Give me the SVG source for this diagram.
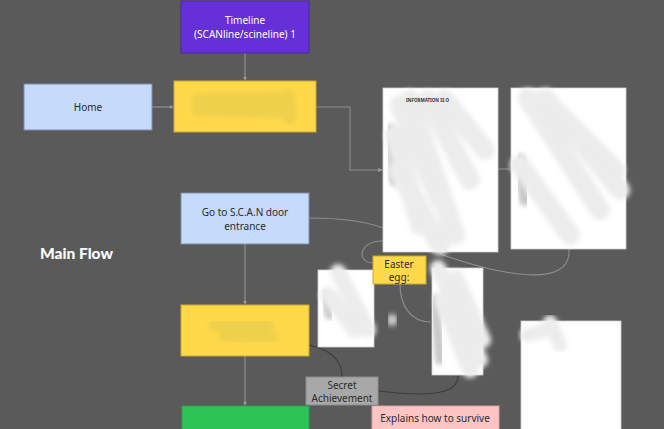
<svg xmlns="http://www.w3.org/2000/svg" width="664" height="429" viewBox="0 0 664 429">
<defs>
<style>
.t{font-family:"Noto Sans","Open Sans",sans-serif;font-size:10px;text-anchor:middle;fill:#2b2b2b}
.w{fill:#ffffff}
.ln{fill:none;stroke:#8e8e8e;stroke-width:1.1}
.dk{fill:none;stroke:#3c3c3c;stroke-width:1.1}
.lt{fill:none;stroke:#9a9a9a;stroke-width:1}
.page{fill:#ffffff;stroke:#d0d0d0;stroke-width:0.8}
.blue{fill:#c6dafc;stroke:#7f8ea6;stroke-width:1}
.yel{fill:#ffd94a;stroke:#c9a92e;stroke-width:1}
.smudge{fill:none;stroke-linecap:round;stroke:#ececec;filter:url(#soft)}
.sh{fill:none;stroke-linecap:round;stroke:#c8c8c8;filter:url(#soft)}
.ysm{fill:none;stroke-linecap:round;stroke:#eed04c;filter:url(#soft)}
</style>
<filter id="soft" x="-30%" y="-30%" width="160%" height="160%">
<feGaussianBlur stdDeviation="2.5"/>
</filter>
<marker id="ar" viewBox="0 0 6 6" refX="5" refY="3" markerWidth="4" markerHeight="4" orient="auto">
<path d="M0,0 L6,3 L0,6 z" fill="#9a9a9a"/>
</marker>
</defs>
<rect width="664" height="429" fill="#5a5a5a"/>

<g id="connectors">
<path class="lt" d="M245,53 V80" marker-end="url(#ar)"/>
<path class="lt" d="M152,107 H173" marker-end="url(#ar)"/>
<path class="ln" d="M316,107 H350 V170 H382" marker-end="url(#ar)"/>
<path class="ln" d="M498,169 H510"/>
<path class="lt" d="M245,244 V304" marker-end="url(#ar)"/>
<path class="lt" d="M245,356 V405" marker-end="url(#ar)"/>
<path class="ln" d="M309,218 C340,218 365,221 383,228"/>
<path class="ln" d="M383,241 C360,240 355,262 373,263"/>
<path class="ln" d="M400,284 C400,305 410,322 431,322"/>
<path class="ln" d="M569,249 C572,290 500,275 440,254"/>
<path class="dk" d="M275,338 C320,345 342,352 342,377"/>
<path class="dk" d="M378,391 C420,396 458,397 458,376"/>
</g>

<g id="timeline">
<rect x="181" y="1" width="128" height="52" fill="#6630d9" stroke="#4c2aa0" stroke-width="1"/>
<text class="t w" x="245" y="24">Timeline</text>
<text class="t w" x="245" y="38">(SCANline/scineline) 1</text>
</g>

<g id="yellow1">
<rect class="yel" x="174" y="81" width="142" height="51"/>
<path class="ysm" d="M198,100 L288,98 M198,110 L290,112 M288,95 L290,118" stroke-width="13"/>
</g>

<g id="home">
<rect class="blue" x="24" y="84" width="128" height="46"/>
<text class="t" x="88" y="111">Home</text>
</g>

<g id="page1">
<rect class="page" x="383" y="88" width="115" height="164"/>
<path class="sh" d="M390,130 L395,180 M392,320 L392,320" stroke-width="12"/>
<path class="smudge" d="M400,105 L440,200 M410,100 L455,235 M428,100 L470,180 M445,100 L485,150 M395,135 L420,225 M398,170 L440,245" stroke-width="20"/>
<text x="406" y="102" font-family="'Noto Sans',sans-serif" font-size="4.5" font-weight="bold" fill="#333">INFORMATION IS O</text>
</g>

<g id="page2">
<rect class="page" x="511" y="88" width="115" height="161"/>
<path class="sh" d="M520,160 L525,200" stroke-width="12"/>
<path class="smudge" d="M528,98 L600,210 M545,98 L620,190 M520,165 L570,235 M560,115 L615,170" stroke-width="20"/>
</g>

<g id="goto">
<rect class="blue" x="181" y="193" width="128" height="51"/>
<text class="t" x="245" y="216">Go to S.C.A.N door</text>
<text class="t" x="245" y="230">entrance</text>
</g>

<g id="page-small">
<rect class="page" x="318" y="270" width="56" height="77"/>
<path class="sh" d="M325,295 L330,315" stroke-width="10"/>
<path class="smudge" d="M338,272 L368,330 M328,295 L355,330" stroke-width="16"/>
</g>

<g id="easter">
<rect class="yel" x="373" y="256" width="53" height="28"/>
<text class="t" x="399" y="268">Easter</text>
<text class="t" x="399" y="281">egg:</text>
</g>

<g id="page3">
<rect class="page" x="432" y="268" width="51" height="107"/>
<path class="sh" d="M435,300 L440,360" stroke-width="10"/>
<path class="smudge" d="M438,268 L480,360 M442,300 L470,370 M456,278 L483,340" stroke-width="16"/>
</g>

<g id="page4">
<rect class="page" x="521" y="321" width="100" height="110"/>
<path class="smudge" d="M527,335 L548,330 M550,322 L560,345" stroke-width="14"/>
</g>

<g id="yellow2">
<rect class="yel" x="181" y="305" width="128" height="51"/>
<path class="ysm" d="M215,325 L268,325 M225,336 L272,338" stroke-width="13"/>
</g>

<g id="secret">
<rect x="306" y="377" width="72" height="28" fill="#a8a8a8" stroke="#8c8c8c" stroke-width="1"/>
<text class="t" x="342" y="389">Secret</text>
<text class="t" x="342" y="402">Achievement</text>
</g>

<g id="green">
<rect x="182" y="406" width="127" height="30" fill="#2ec455" stroke="#24a046" stroke-width="1"/>
</g>

<g id="pink">
<rect x="372" y="406" width="127" height="30" fill="#ffc4c4" stroke="#d9a0a0" stroke-width="1"/>
<text class="t" x="435" y="422">Explains how to survive</text>
</g>

<text x="40" y="259" font-family="Lato,'Noto Sans',sans-serif" font-size="15.5" font-weight="900" fill="#ffffff">Main Flow</text>
</svg>
